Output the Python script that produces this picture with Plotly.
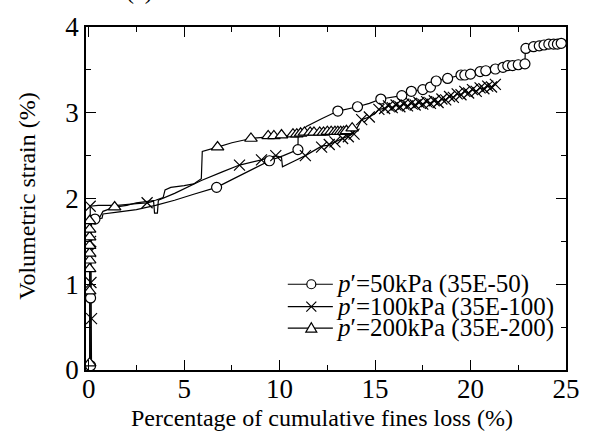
import plotly.graph_objects as go

# ---------------- data ----------------
# p' = 50 kPa (35E-50): full curve path
x50_line = [0.1, 0.1, 0.1, 0.12, 0.15, 0.33, 0.7, 0.75, 1.5, 2.5, 3.5, 4.5, 5.5, 6.7, 7.5, 8.5,
            9.47, 10.2, 10.96, 10.97, 11.4, 12.2, 13.05, 14.08, 14.7, 15.3, 16.4, 16.9, 17.5, 17.9,
            18.2, 18.8, 19.5, 19.7, 20.0, 20.5, 20.8, 21.3, 21.7, 21.95, 22.2, 22.5, 22.85, 22.87,
            23.3, 23.6, 23.85, 24.1, 24.35, 24.55, 24.75]
y50_line = [0.0, 0.05, 0.84, 1.5, 1.7, 1.76, 1.77, 1.82, 1.84, 1.87, 1.92, 1.98, 2.05, 2.13, 2.22, 2.33,
            2.44, 2.5, 2.57, 2.72, 2.84, 2.93, 3.02, 3.07, 3.11, 3.16, 3.2, 3.25, 3.27, 3.3,
            3.37, 3.4, 3.44, 3.44, 3.45, 3.48, 3.49, 3.51, 3.53, 3.55, 3.55, 3.56, 3.57, 3.75,
            3.77, 3.78, 3.79, 3.8, 3.8, 3.8, 3.81]
# p' = 50 kPa: marked points
x50_mark = [0.1, 0.1, 0.33, 6.7, 9.47, 10.96, 13.05, 14.08, 15.3, 16.4, 16.9, 17.5, 17.9, 18.2, 18.8,
            19.5, 19.7, 20.0, 20.5, 20.8, 21.3, 21.7, 21.95, 22.2, 22.5, 22.85, 22.9, 23.3, 23.6,
            23.85, 24.1, 24.35, 24.55, 24.75]
y50_mark = [0.05, 0.84, 1.76, 2.13, 2.44, 2.57, 3.02, 3.07, 3.16, 3.2, 3.25, 3.27, 3.3, 3.37, 3.4,
            3.44, 3.44, 3.45, 3.48, 3.49, 3.51, 3.53, 3.55, 3.55, 3.56, 3.57, 3.75, 3.77, 3.78,
            3.79, 3.8, 3.8, 3.8, 3.81]

# p' = 100 kPa (35E-100): full curve path
x100_dense = [15.5, 15.7, 15.9, 16.1, 16.3, 16.5, 16.7, 16.9, 17.1, 17.3, 17.5, 17.7, 17.9, 18.1, 18.3,
              18.5, 18.7, 18.9, 19.1, 19.3, 19.5, 19.7, 19.9, 20.1, 20.3, 20.5, 20.7, 20.9, 21.1, 21.3]
y100_dense = [3.05, 3.08, 3.06, 3.09, 3.07, 3.10, 3.08, 3.11, 3.09, 3.12, 3.10, 3.13, 3.11, 3.14, 3.12,
              3.16, 3.15, 3.19, 3.18, 3.22, 3.21, 3.25, 3.23, 3.27, 3.25, 3.29, 3.28, 3.31, 3.30, 3.33]
x100_line = [0.15, 0.15, 0.12, 0.1, 0.08, 0.5, 1.5, 2.5, 3.06, 3.4, 3.45, 3.6, 3.65, 4.5, 5.9, 7.0,
             7.9, 9.05, 9.8, 10.1, 10.15, 10.8, 11.35, 12.2, 12.5, 12.9, 13.3, 13.8, 14.0, 14.3,
             14.7, 15.0, 15.2] + x100_dense
y100_line = [0.0, 0.6, 1.02, 1.38, 1.91, 1.92, 1.92, 1.94, 1.95, 1.97, 1.83, 1.83, 1.98, 2.06, 2.21, 2.31,
             2.39, 2.45, 2.5, 2.48, 2.37, 2.44, 2.5, 2.61, 2.62, 2.66, 2.7, 2.75, 2.8, 2.92,
             2.95, 2.99, 3.04] + y100_dense
x100_mark = [0.15, 0.12, 0.1, 0.1, 0.08, 3.06, 7.9, 9.05, 9.8, 11.35, 12.2, 12.6, 12.9, 13.3, 13.6,
             13.9, 14.3, 14.7, 15.2] + x100_dense
y100_mark = [0.6, 1.02, 1.38, 1.5, 1.91, 1.95, 2.39, 2.45, 2.5, 2.5, 2.6, 2.63, 2.66, 2.7, 2.72,
             2.75, 2.92, 2.95, 3.04] + y100_dense

# p' = 200 kPa (35E-200): full curve path
x200_line = [0.05, 0.05, 0.05, 0.05, 0.2, 0.6, 0.75, 1.36, 2.0, 2.5, 3.5, 3.9, 4.0, 4.3, 5.0, 5.5,
             5.9, 5.95, 6.75, 7.5, 8.5, 9.4, 10.1, 10.9, 11.6, 12.5, 13.2, 13.5, 13.8]
y200_line = [0.0, 0.08, 0.92, 1.74, 1.75, 1.79, 1.85, 1.9, 1.92, 1.95, 1.98, 2.01, 2.1, 2.13, 2.15, 2.17,
             2.23, 2.55, 2.6, 2.65, 2.7, 2.72, 2.73, 2.74, 2.75, 2.76, 2.76, 2.77, 2.8]
x200_mark = [0.05, 0.05, 0.05, 0.05, 0.05, 0.05, 0.05, 0.05, 0.05, 1.36, 6.75, 8.5, 9.4, 9.7, 10.1,
             10.7, 10.9, 11.1, 11.3, 11.6, 11.8, 12.1, 12.3, 12.5, 12.7, 12.9, 13.05, 13.2, 13.35,
             13.5, 13.8]
y200_mark = [0.08, 0.92, 1.18, 1.28, 1.36, 1.45, 1.55, 1.64, 1.74, 1.9, 2.6, 2.7, 2.73, 2.73, 2.74,
             2.75, 2.75, 2.76, 2.77, 2.77, 2.77, 2.77, 2.77, 2.78, 2.78, 2.78, 2.78, 2.78, 2.78,
             2.79, 2.82]

legend_labels = ["<i>p</i>′=50kPa (35E-50)", "<i>p</i>′=100kPa (35E-100)", "<i>p</i>′=200kPa (35E-200)"]
x_title = "Percentage of cumulative fines loss (%)"
y_title = "Volumetric strain (%)"

# ---------------- styling ----------------
FONT = "Liberation Serif, Times New Roman, serif"
LW = 1.2

fig = go.Figure()

series = [
    (x50_line, y50_line, x50_mark, y50_mark, "circle", 10),
    (x100_line, y100_line, x100_mark, y100_mark, "x-thin", 11),
    (x200_line, y200_line, x200_mark, y200_mark, "triangle-up", 11),
]
for xl, yl, xm, ym, sym, sz in series:
    fig.add_trace(go.Scatter(x=xl, y=yl, mode="lines", line=dict(color="black", width=LW),
                             showlegend=False, hoverinfo="skip"))
for xl, yl, xm, ym, sym, sz in series:
    fig.add_trace(go.Scatter(x=xm, y=ym, mode="markers", showlegend=False,
                             marker=dict(symbol=sym, size=sz, color="white",
                                         line=dict(color="black", width=LW))))

# ---------------- manual legend (layout shapes + text) ----------------
L, R, T, B = 86, 16, 18, 66
W, H = 592, 436
PW, PH = W - L - R, H - T - B

def px(xp):
    return (xp - L) / PW

def py(yp):
    return (H - B - yp) / PH

rows = [282, 305, 327]
shapes = []
annotations = []
for i, yy in enumerate(rows):
    shapes.append(dict(type="line", xref="paper", yref="paper", x0=px(292), x1=px(338),
                       y0=py(yy), y1=py(yy), line=dict(color="black", width=LW)))
    common = dict(xref="paper", yref="paper", xsizemode="pixel", ysizemode="pixel",
                  xanchor=px(316), yanchor=py(yy), line=dict(color="black", width=LW),
                  fillcolor="white")
    if i == 0:
        shapes.append(dict(type="circle", x0=-4.5, x1=4.5, y0=-4.5, y1=4.5, **common))
    elif i == 1:
        shapes.append(dict(type="path", path="M-5,-5 L5,5 M-5,5 L5,-5", **common))
    else:
        shapes.append(dict(type="path", path="M-5.5,-4 L5.5,-4 L0,5.5 Z", **common))
    annotations.append(dict(text=legend_labels[i], xref="paper", yref="paper", x=px(339), y=py(yy),
                            xanchor="left", yanchor="middle", showarrow=False,
                            font=dict(family=FONT, size=25, color="black")))

annotations.append(dict(text=x_title, xref="paper", yref="paper", x=px(327), y=py(419),
                        xanchor="center", yanchor="middle", showarrow=False,
                        font=dict(family=FONT, size=24, color="black")))
annotations.append(dict(text=y_title, xref="paper", yref="paper", x=px(25), y=py(191),
                        xanchor="center", yanchor="middle", showarrow=False, textangle=-90,
                        font=dict(family=FONT, size=24, color="black")))
annotations.append(dict(text="(a)", xref="paper", yref="paper", x=px(141), y=py(-4),
                        xanchor="center", yanchor="bottom", showarrow=False,
                        font=dict(family=FONT, size=24, color="black")))

axis_common = dict(showgrid=False, zeroline=False, showline=True, linecolor="black", linewidth=1.5,
                   mirror="ticks", ticks="inside", ticklen=10, tickwidth=1.2, tickcolor="black",
                   tickfont=dict(family=FONT, size=27, color="black"))

fig.update_layout(
    width=W, height=H,
    margin=dict(l=L, r=R, t=T, b=B),
    paper_bgcolor="white", plot_bgcolor="white",
    showlegend=False,
    xaxis=dict(range=[-0.14, 25], tick0=0, dtick=5, ticklabelstandoff=-6,
               minor=dict(ticks="inside", ticklen=5, dtick=2.5, tickwidth=1.2, tickcolor="black"),
               **axis_common),
    yaxis=dict(range=[0, 4], tick0=0, dtick=1,
               minor=dict(ticks="inside", ticklen=5, dtick=0.5, tickwidth=1.2, tickcolor="black"),
               **axis_common),
    shapes=shapes,
    annotations=annotations,
)

fig.write_html("out.html")
